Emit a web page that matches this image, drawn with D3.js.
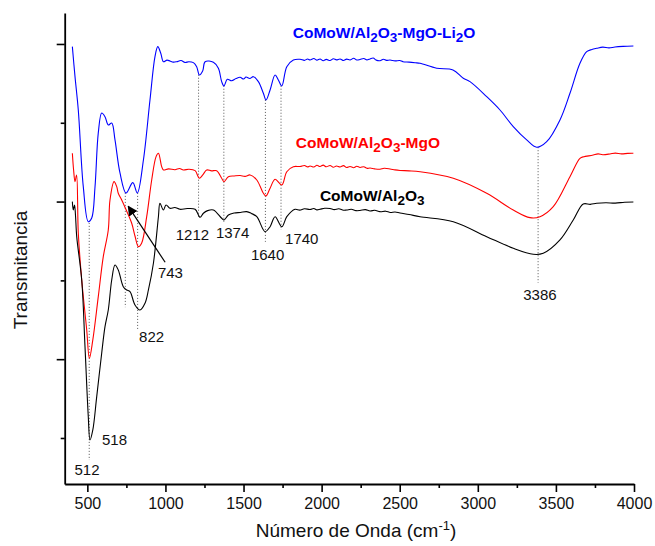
<!DOCTYPE html>
<html>
<head>
<meta charset="utf-8">
<script src="https://cdn.jsdelivr.net/npm/d3@7"></script>
<style>
  body { margin: 0; background: #fff; }
  svg text { font-family: "Liberation Sans", Arial, sans-serif; }
</style>
</head>
<body>
<div id="chart"></div>
<script>
// wavenumber (cm-1), transmittance (a.u., offset spectra)
let blueData = [
    [404, 49.66], [421, 45.85], [442, 41.62], [474, 31.89], [506, 27.45], [528, 27.92], [549, 31.85],
    [570, 38.71], [592, 41.24], [613, 40.77], [634, 39.72], [656, 39.97], [677, 37.82], [709, 33.63],
    [748, 31.09], [791, 32.40], [820, 31.09], [859, 35.28], [901, 42.89], [933, 48.39], [951, 49.66],
    [970, 48.82], [987, 47.75], [1010, 47.95], [1029, 47.84], [1050, 47.70], [1072, 47.75], [1100, 47.90],
    [1125, 47.65], [1150, 47.75], [1179, 47.63], [1200, 47.12],
    [1217, 46.07], [1239, 46.61], [1254, 47.75], [1307, 47.68], [1339, 46.92], [1360, 45.22], [1375, 44.67],
    [1396, 45.52], [1424, 45.34], [1452, 45.62], [1478, 45.77], [1500, 45.55], [1516, 45.80], [1540, 45.62],
    [1563, 45.85], [1595, 45.22],
    [1627, 43.74], [1644, 42.89], [1670, 44.16], [1702, 46.07], [1723, 45.43], [1745, 44.67], [1777, 47.12],
    [1819, 47.97], [1862, 48.06], [1890, 47.92], [1910, 48.10], [1926, 47.97], [1950, 48.15], [1970, 47.95],
    [1990, 48.10], [2010, 47.88], [2030, 48.05], [2054, 47.91], [2075, 48.12], [2095, 47.98], [2118, 48.10],
    [2140, 47.90], [2160, 48.08], [2182, 47.97], [2205, 48.18], [2225, 47.96], [2246, 48.03], [2270, 48.15],
    [2290, 47.98], [2310, 48.10], [2330, 48.22], [2350, 47.95], [2374, 47.88], [2395, 48.06], [2415, 47.92],
    [2438, 47.97], [2470, 47.85], [2500, 47.90], [2521, 47.75], [2560, 47.70], [2600, 47.62], [2630, 47.55],
    [2737, 46.92], [2841, 46.70], [2907, 45.65], [2950, 45.22], [3057, 43.31], [3142, 41.62], [3227, 39.51],
    [3313, 37.82], [3377, 36.89], [3441, 37.60], [3526, 40.36], [3590, 43.74], [3654, 47.55], [3697, 49.02],
    [3730, 49.30], [3761, 49.45], [3800, 49.60], [3840, 49.50], [3878, 49.62], [3930, 49.70], [3996, 49.75]
];
let redData = [
    [404, 36.13], [412, 34.01], [421, 32.53], [431, 33.38], [442, 26.02], [464, 20.05], [496, 13.71],
    [513, 10.11], [535, 12.44], [570, 17.93], [602, 23.01], [634, 26.40], [645, 30.20], [671, 32.53],
    [688, 31.89], [698, 31.05], [720, 30.20], [743, 29.19], [784, 27.25], [805, 25.63], [827, 24.28],
    [848, 24.75], [880, 28.08], [912, 32.74], [940, 35.70], [955, 36.13], [976, 34.43], [987, 34.01],
    [1020, 34.15], [1061, 34.04], [1090, 34.20], [1115, 34.01], [1150, 34.10], [1190, 33.92], [1217, 32.96],
    [1239, 33.38], [1264, 34.01], [1295, 33.90], [1328, 33.92],
    [1360, 32.96], [1375, 32.53], [1403, 33.16], [1440, 33.25], [1478, 33.31], [1510, 33.20], [1542, 33.38],
    [1585, 32.74], [1627, 31.05],
    [1644, 30.71], [1670, 31.69], [1702, 32.83], [1745, 32.11], [1777, 33.79], [1819, 34.43], [1862, 34.45],
    [1890, 34.58], [1910, 34.40], [1926, 34.52], [1950, 34.38], [1970, 34.60], [1990, 34.45], [2010, 34.62],
    [2030, 34.42], [2054, 34.58], [2075, 34.35], [2095, 34.52], [2118, 34.39], [2140, 34.56], [2160, 34.32],
    [2182, 34.45], [2205, 34.30], [2225, 34.48], [2246, 34.33], [2270, 34.42], [2290, 34.22], [2310, 34.26],
    [2340, 34.15], [2374, 34.10], [2400, 34.22], [2438, 34.14], [2470, 34.02], [2502, 33.95], [2560, 33.90],
    [2630, 33.79], [2843, 32.96], [3057, 31.05], [3227, 28.93],
    [3334, 27.96], [3398, 28.08], [3483, 29.35], [3590, 33.16], [3654, 35.49], [3680, 35.70], [3710, 35.80],
    [3739, 35.91], [3770, 36.05], [3800, 35.95], [3846, 36.04], [3880, 36.15], [3920, 36.05], [3960, 36.12],
    [3996, 36.13]
];
let blackData = [
    [404, 29.99], [410, 28.93], [418, 29.57], [424, 28.30], [432, 25.55], [464, 20.05], [485, 11.59],
    [506, 2.70], [517, -0.25], [535, 1.02], [560, 5.24], [592, 10.79], [613, 14.12], [634, 16.24],
    [656, 20.05], [677, 21.95], [698, 21.32], [730, 19.20], [752, 18.78], [773, 18.57], [805, 16.88],
    [837, 16.24], [869, 17.09], [891, 18.78], [923, 22.17], [955, 28.08], [965, 29.78], [987, 28.93],
    [1004, 29.57], [1029, 29.15], [1060, 29.25], [1093, 29.02], [1140, 29.12], [1190, 29.02], [1222, 28.01],
    [1243, 28.52], [1270, 28.85], [1307, 28.93],
    [1360, 27.88], [1375, 27.66], [1403, 28.30], [1440, 28.55], [1480, 28.62], [1520, 28.72], [1550, 28.50],
    [1585, 28.08], [1638, 26.18], [1670, 26.81],
    [1702, 28.08], [1745, 26.81], [1777, 28.08], [1830, 29.02], [1860, 28.92], [1890, 29.08], [1926, 29.00],
    [1950, 29.12], [1970, 28.95], [1990, 29.02], [2020, 29.15], [2054, 29.12], [2080, 28.98], [2110, 29.08],
    [2140, 28.90], [2161, 28.93], [2190, 29.02], [2220, 28.85], [2246, 28.87], [2280, 28.98], [2310, 28.80],
    [2340, 28.90], [2374, 28.72], [2410, 28.78], [2440, 28.62], [2470, 28.68], [2502, 28.55], [2560, 28.35],
    [2630, 28.08], [2843, 27.45], [3057, 25.55],
    [3227, 24.07], [3355, 23.31], [3419, 23.44], [3526, 25.13], [3611, 27.66], [3675, 29.70], [3720, 29.65],
    [3761, 29.78], [3820, 29.85], [3880, 29.80], [3940, 29.92], [3996, 29.95]
];

let seriesColors = ["#0000ff", "#ff0000", "#000000"];

// peak marks: wavenumber, top and bottom of the dotted guide
let peakWaves = [512, 743, 822, 1212, 1374, 1640, 1740, 3386];
let peakTop = [27.3, 31.1, 31.1, 46.1, 44.7, 42.9, 44.7, 36.9];
let peakBottom = [-2.8, 16.6, 13.7, 27.9, 27.4, 24.9, 26.4, 19.7];

// peak labels: text, anchor wavenumber, anchor value
let peakLabels = ["512", "518", "743", "822", "1212", "1374", "1640", "1740", "3386"];
let peakLabelW = [498, 594, 952, 831, 1173, 1430, 1654, 1873, 3398];
let peakLabelV = [-4.7, -0.9, 20.3, 12.2, 25.1, 25.4, 22.6, 24.6, 17.5];
let peakLabelAnchor = ["middle", "start", "start", "start", "middle", "middle", "middle", "middle", "middle"];

let xTicks = [500, 1000, 1500, 2000, 2500, 3000, 3500, 4000];
let xMinorTicks = [750, 1250, 1750, 2250, 2750, 3250, 3750];
let yTicks = [10, 30, 50];
let yMinorTicks = [0, 20, 40];

let W = 655, H = 546;
let margin = {top: 13, right: 21, bottom: 62, left: 64.7},
    width = W - margin.left - margin.right,
    height = H - margin.top - margin.bottom;

let x = d3.scaleLinear().domain([355, 4000]).range([0, width]);
let y = d3.scaleLinear().domain([-5.84, 53.93]).range([height, 0]);

let svg = d3.select("#chart").append("svg")
    .attr("width", W)
    .attr("height", H);
let g = svg.append("g")
    .attr("transform", "translate(" + margin.left + "," + margin.top + ")");

// dotted guides
peakWaves.forEach(function (w, i) {
    g.append("line")
        .attr("x1", x(w)).attr("x2", x(w))
        .attr("y1", y(peakTop[i])).attr("y2", y(peakBottom[i]))
        .attr("stroke", "#555")
        .attr("stroke-width", 1)
        .attr("stroke-dasharray", "1,2");
});

let line = d3.line()
    .x(function (d) { return x(d[0]); })
    .y(function (d) { return y(d[1]); })
    .curve(d3.curveCatmullRom.alpha(0.5));

[blueData, redData, blackData].forEach(function (data, i) {
    g.append("path")
        .datum(data)
        .attr("fill", "none")
        .attr("stroke", seriesColors[i])
        .attr("stroke-width", 1.1)
        .attr("d", line);
});

// peak labels
peakLabels.forEach(function (t, i) {
    g.append("text")
        .attr("x", x(peakLabelW[i]))
        .attr("y", y(peakLabelV[i]))
        .attr("text-anchor", peakLabelAnchor[i])
        .style("font-size", "15px")
        .attr("fill", "#111")
        .text(t);
});

// arrow to the 743 shoulder
svg.append("defs").append("marker")
    .attr("id", "head")
    .attr("viewBox", "0 0 10 10")
    .attr("refX", 9).attr("refY", 5)
    .attr("markerWidth", 10).attr("markerHeight", 10)
    .attr("markerUnits", "userSpaceOnUse")
    .attr("orient", "auto")
    .append("path")
    .attr("d", "M0,0 L10,5 L0,10 z")
    .attr("fill", "#000");
g.append("line")
    .attr("x1", x(998)).attr("y1", y(22.3))
    .attr("x2", x(762)).attr("y2", y(29.4))
    .attr("stroke", "#000")
    .attr("stroke-width", 1.2)
    .attr("marker-end", "url(#head)");

// series names with subscripts
function seriesLabel(parts, w, v, color) {
    let t = g.append("text")
        .attr("x", x(w)).attr("y", y(v))
        .attr("fill", color)
        .style("font-size", "15.5px")
        .style("font-weight", "bold");
    parts.forEach(function (p) {
        if (p.sub) {
            t.append("tspan").attr("dy", 4).style("font-size", "13.5px").text(p.t);
        } else {
            t.append("tspan").attr("dy", p.back ? -4 : 0).text(p.t);
        }
    });
}
seriesLabel([{t: "CoMoW/Al"}, {t: "2", sub: true}, {t: "O", back: true}, {t: "3", sub: true},
    {t: "-MgO-Li", back: true}, {t: "2", sub: true}, {t: "O", back: true}], 1815, 50.7, seriesColors[0]);
seriesLabel([{t: "CoMoW/Al"}, {t: "2", sub: true}, {t: "O", back: true}, {t: "3", sub: true},
    {t: "-MgO", back: true}], 1835, 36.8, seriesColors[1]);
seriesLabel([{t: "CoMoW/Al"}, {t: "2", sub: true}, {t: "O", back: true}, {t: "3", sub: true}],
    1989, 30.1, seriesColors[2]);

// axes
let xAxis = g.append("g")
    .attr("transform", "translate(0," + height + ")")
    .call(d3.axisBottom(x).tickValues(xTicks).tickSize(8).tickPadding(6)
        .tickFormat(d3.format("d")).tickSizeOuter(0));
g.append("g")
    .attr("transform", "translate(0," + height + ")")
    .call(d3.axisBottom(x).tickValues(xMinorTicks).tickSize(4).tickFormat("").tickSizeOuter(0))
    .select(".domain").remove();
xAxis.selectAll("text").style("font-size", "16px").attr("fill", "#111")
    .style("font-family", "'Liberation Sans', Arial, sans-serif");

g.append("g")
    .call(d3.axisLeft(y).tickValues(yTicks).tickSize(8).tickFormat("").tickSizeOuter(0));
g.append("g")
    .call(d3.axisLeft(y).tickValues(yMinorTicks).tickSize(4).tickFormat("").tickSizeOuter(0))
    .select(".domain").remove();

g.selectAll(".domain").attr("stroke-width", 1.8);
g.selectAll(".tick line").attr("stroke-width", 1.6);

// axis titles
let xt = svg.append("text")
    .attr("x", 356)
    .attr("y", 537)
    .attr("text-anchor", "middle")
    .style("font-size", "19px")
    .attr("fill", "#111");
xt.append("tspan").text("Número de Onda (cm");
xt.append("tspan").attr("dy", -7).style("font-size", "13px").text("-1");
xt.append("tspan").attr("dy", 7).text(")");

svg.append("text")
    .attr("transform", "translate(27,270) rotate(-90)")
    .attr("text-anchor", "middle")
    .style("font-size", "19px")
    .attr("fill", "#111")
    .text("Transmitancia");
</script>
</body>
</html>
